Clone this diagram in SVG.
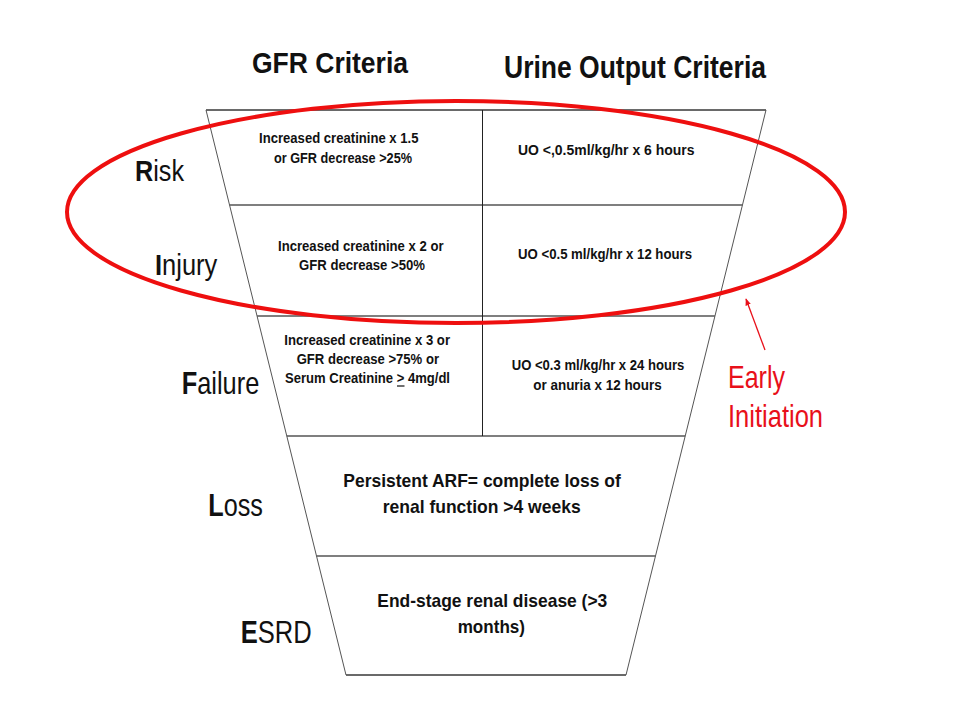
<svg xmlns="http://www.w3.org/2000/svg" width="960" height="720" viewBox="0 0 960 720">
<defs>
<style>
.hdr{font-family:"Liberation Sans",Arial,sans-serif;font-weight:bold;fill:#111}
.lbl{font-family:"Liberation Sans",Arial,sans-serif;fill:#111}
.lbl .b{font-weight:bold}
.cell{font-family:"Liberation Sans",Arial,sans-serif;font-weight:bold;font-size:15px;fill:#111}
.big{font-family:"Liberation Sans",Arial,sans-serif;font-weight:bold;font-size:19px;fill:#111}
.red{font-family:"Liberation Sans",Arial,sans-serif;font-size:32px;fill:#e8101a}
.edge{stroke:#555;stroke-width:1;fill:none}
.row{stroke:#555;stroke-width:1.6}
.col{stroke:#222;stroke-width:1}
</style>
<marker id="ah" viewBox="0 0 10 10" refX="9" refY="5" markerWidth="7" markerHeight="7" orient="auto" markerUnits="userSpaceOnUse">
<path d="M0,1 L10,5 L0,9 z" fill="#e8101a"/>
</marker>
</defs>
<rect width="960" height="720" fill="#fff"/>

<g id="headers">
<text class="hdr" x="252" y="73.3" font-size="30" textLength="156" lengthAdjust="spacingAndGlyphs">GFR Criteria</text>
<text class="hdr" x="504" y="78.3" font-size="31" textLength="262" lengthAdjust="spacingAndGlyphs">Urine Output Criteria</text>
</g>

<g id="funnel">
<polygon class="edge" points="206,110 766,110 626,675 346,675"/>
<line class="row" x1="206" y1="110" x2="766" y2="110"/>
<line class="row" x1="346" y1="675" x2="626" y2="675"/>
</g>

<g id="connectors">
<line class="row" x1="229.6" y1="205" x2="742.4" y2="205"/>
<line class="row" x1="257.1" y1="316" x2="714.9" y2="316"/>
<line class="row" x1="286.8" y1="436" x2="685.2" y2="436"/>
<line class="row" x1="316.5" y1="556" x2="655.5" y2="556"/>
<line class="col" x1="482.5" y1="110" x2="482.5" y2="436"/>
<line x1="765" y1="350" x2="746" y2="299" stroke="#e8101a" stroke-width="1.3" marker-end="url(#ah)"/>
</g>

<g id="risk">
<text class="lbl" transform="translate(135,180.7) scale(0.869,1)" font-size="29"><tspan class="b">R</tspan>isk</text>
<text class="cell" x="259" y="143" textLength="159.5" lengthAdjust="spacingAndGlyphs">Increased creatinine x 1.5</text>
<text class="cell" x="274" y="163" textLength="138" lengthAdjust="spacingAndGlyphs">or GFR decrease &gt;25%</text>
<text class="cell" x="518" y="155" textLength="176.5" lengthAdjust="spacingAndGlyphs">UO &lt;,0.5ml/kg/hr x 6 hours</text>
</g>

<g id="injury">
<text class="lbl" transform="translate(155,275) scale(0.849,1)" font-size="30"><tspan class="b">I</tspan>njury</text>
<text class="cell" x="278" y="251" textLength="165.5" lengthAdjust="spacingAndGlyphs">Increased creatinine x 2 or</text>
<text class="cell" x="299" y="270" textLength="126" lengthAdjust="spacingAndGlyphs">GFR decrease &gt;50%</text>
<text class="cell" x="518" y="259" textLength="174" lengthAdjust="spacingAndGlyphs">UO &lt;0.5 ml/kg/hr x 12 hours</text>
</g>

<g id="failure">
<text class="lbl" transform="translate(181.7,394.3) scale(0.819,1)" font-size="31"><tspan class="b">F</tspan>ailure</text>
<text class="cell" x="284.3" y="345" textLength="165.7" lengthAdjust="spacingAndGlyphs">Increased creatinine x 3 or</text>
<text class="cell" x="296.7" y="364" textLength="142.3" lengthAdjust="spacingAndGlyphs">GFR decrease &gt;75% or</text>
<text class="cell" x="285" y="383.3" textLength="165" lengthAdjust="spacingAndGlyphs">Serum Creatinine &gt; 4mg/dl</text>
<line x1="397" y1="386" x2="404.5" y2="386" stroke="#111" stroke-width="1.2"/>
<text class="cell" x="511.7" y="370" textLength="172.6" lengthAdjust="spacingAndGlyphs">UO &lt;0.3 ml/kg/hr x 24 hours</text>
<text class="cell" x="533.3" y="390" textLength="128.4" lengthAdjust="spacingAndGlyphs">or anuria x 12 hours</text>
</g>

<g id="loss">
<text class="lbl" transform="translate(208.3,516) scale(0.814,1)" font-size="31"><tspan class="b">L</tspan>oss</text>
<text class="big" x="343.3" y="487.3" textLength="277.4" lengthAdjust="spacingAndGlyphs">Persistent ARF= complete loss of</text>
<text class="big" x="382.7" y="513.3" textLength="198" lengthAdjust="spacingAndGlyphs">renal function &gt;4 weeks</text>
</g>

<g id="esrd">
<text class="lbl" transform="translate(240.7,643.3) scale(0.799,1)" font-size="32"><tspan class="b">E</tspan>SRD</text>
<text class="big" x="377.3" y="606.7" textLength="230" lengthAdjust="spacingAndGlyphs">End-stage renal disease (&gt;3</text>
<text class="big" x="457.7" y="633.3" textLength="67.3" lengthAdjust="spacingAndGlyphs">months)</text>
</g>

<g id="early-initiation">
<ellipse cx="456" cy="212" rx="389" ry="111" fill="none" stroke="#ee0f0f" stroke-width="4"/>
<text class="red" x="728" y="388" textLength="57" lengthAdjust="spacingAndGlyphs">Early</text>
<text class="red" x="728" y="427" textLength="95" lengthAdjust="spacingAndGlyphs">Initiation</text>
</g>
</svg>
